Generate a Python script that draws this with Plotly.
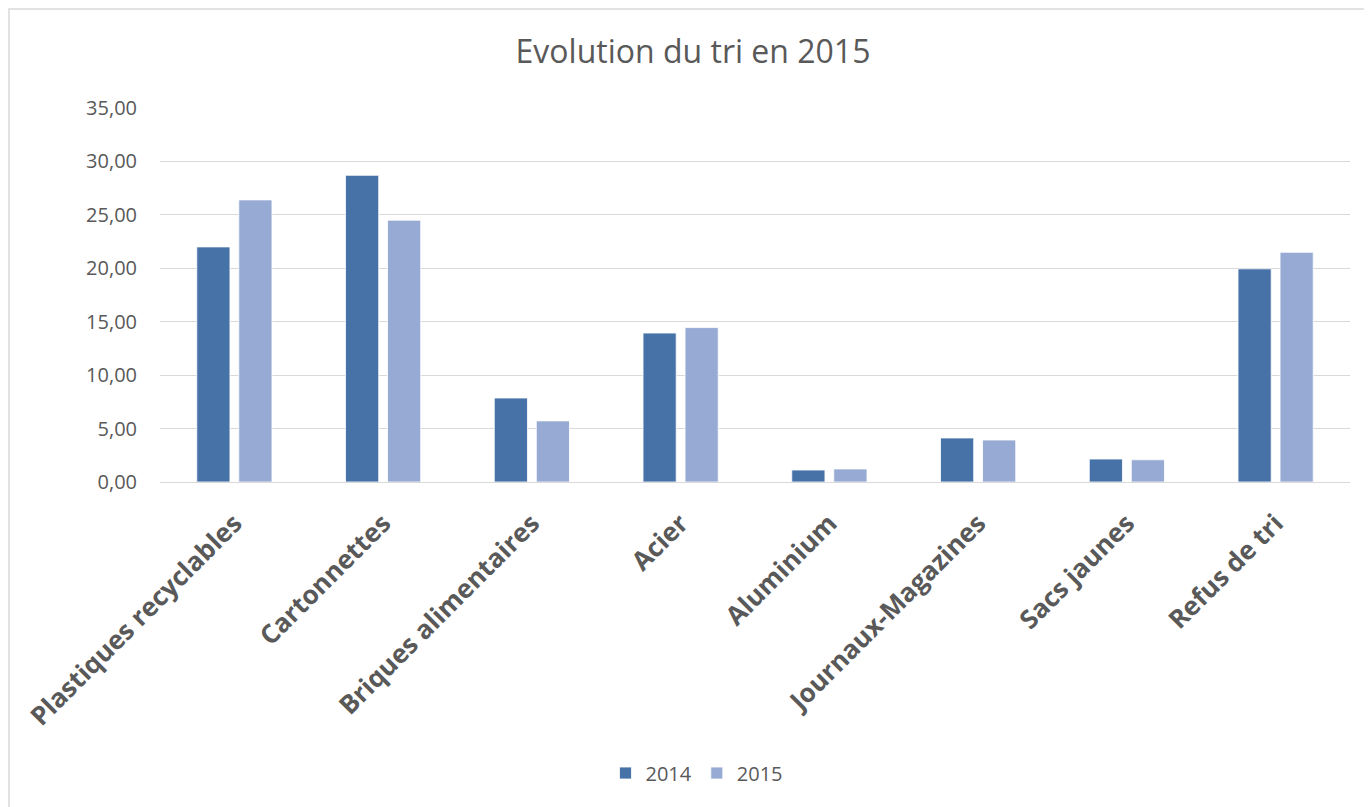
import plotly.graph_objects as go

categories = ["Plastiques recyclables", "Cartonnettes", "Briques alimentaires", "Acier",
              "Aluminium", "Journaux-Magazines", "Sacs jaunes", "Refus de tri"]
values_2014 = [22.0, 28.7, 7.86, 13.94, 1.12, 4.12, 2.15, 19.95]
values_2015 = [26.4, 24.5, 5.72, 14.45, 1.22, 3.93, 2.08, 21.5]
y_ticks = [0, 5, 10, 15, 20, 25, 30, 35]
y_tick_labels = ["0,00", "5,00", "10,00", "15,00", "20,00", "25,00", "30,00", "35,00"]

grey = "#595959"

# page body adds an 8px offset, so the layout is shifted up/left by 8px
L, T, PW, PH = 152, 100, 1190, 374

fig = go.Figure()
fig.add_trace(go.Bar(x=categories, y=values_2014, name="2014",
                     marker=dict(color="#4672A8", line=dict(color="#ffffff", width=0.8))))
fig.add_trace(go.Bar(x=categories, y=values_2015, name="2015",
                     marker=dict(color="#96AAD3", line=dict(color="#ffffff", width=0.8))))

fig.update_layout(
    width=1372, height=807,
    margin=dict(l=L, r=1372 - L - PW, t=T, b=807 - T - PH, autoexpand=False),
    paper_bgcolor="white", plot_bgcolor="white",
    font=dict(family="Open Sans, sans-serif", color=grey),
    title=dict(text="Evolution du tri en 2015", x=685 / 1372, xanchor="center",
               y=1 - 44 / 807, yanchor="middle",
               font=dict(size=32, color=grey)),
    barmode="group", bargap=0.435, bargroupgap=0.21,
    legend=dict(orientation="h", xref="container", yref="container",
                x=689 / 1372, xanchor="center", y=1 - 765 / 807, yanchor="middle",
                font=dict(size=20, color=grey), itemwidth=30, traceorder="normal"),
    xaxis=dict(tickangle=-45, tickfont=dict(size=26, color=grey, family="Open Sans, sans-serif",
                                            weight="bold"),
               showline=False, ticks="", showgrid=False, ticklabelstandoff=20,
               automargin=False),
    yaxis=dict(range=[0, 35], tickvals=y_ticks, ticktext=y_tick_labels,
               tickfont=dict(size=20, color=grey), showgrid=True, gridcolor="#D9D9D9",
               gridwidth=1.3, zeroline=True, zerolinecolor="#D9D9D9", zerolinewidth=1.3,
               ticks="", ticklabelstandoff=22, automargin=False),
)

# outer chart border
fig.add_shape(type="rect", xref="paper", yref="paper",
              x0=(1 - L) / PW, x1=(1390 - L) / PW,
              y0=-(830 - T - PH) / PH, y1=(T + PH - 1) / PH,
              line=dict(color="#D9D9D9", width=1.5), fillcolor="rgba(0,0,0,0)", layer="below")

fig.write_html("out.html")
